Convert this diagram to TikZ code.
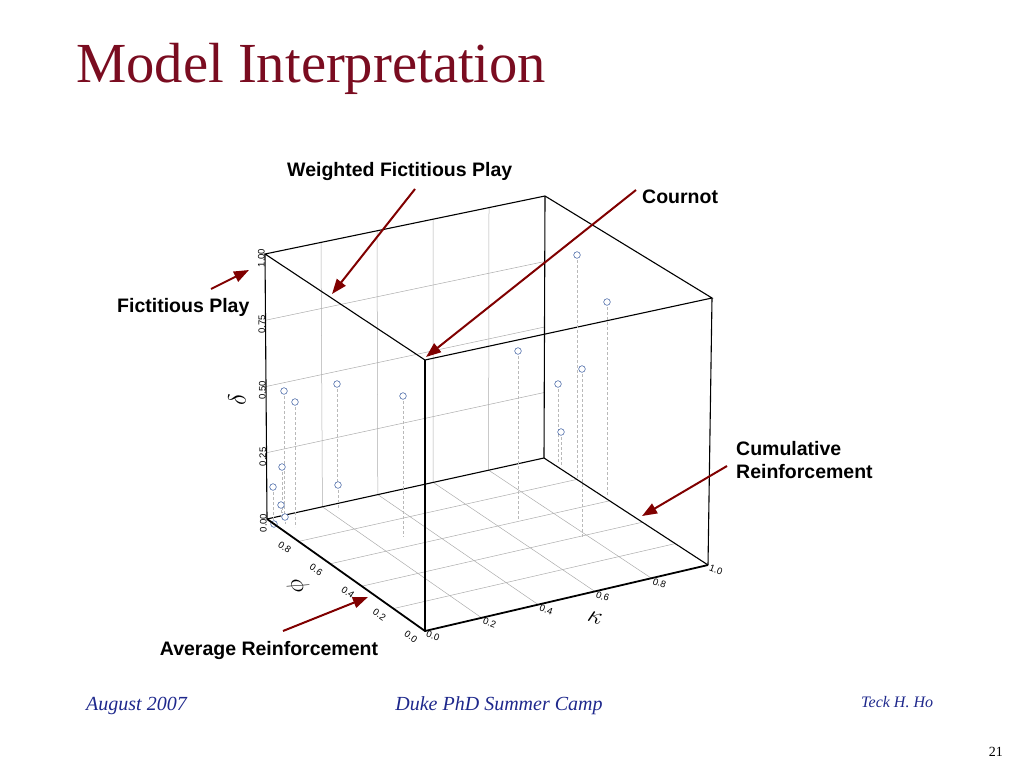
\documentclass[tikz,border=0pt]{standalone}
\usepackage{fontspec}
\setmainfont{Liberation Serif}
\newfontfamily\arial{Liberation Sans}
\usetikzlibrary{arrows.meta,calc}
\definecolor{titlered}{RGB}{122,12,32}
\definecolor{arrowred}{RGB}{128,0,0}
\definecolor{footblue}{RGB}{30,40,140}
\definecolor{dotblue}{RGB}{80,110,170}
\tikzset{
  edge/.style={draw=black, line width=1.1},
  front/.style={draw=black, line width=1.8},
  grid/.style={draw=gray!65, line width=0.5},
  drop/.style={draw=gray!55, dash pattern=on 3pt off 2pt, line width=0.5},
  datum/.style={draw=dotblue, line width=0.6, fill=white},
  tick/.style={font=\arial\fontsize{9.5}{10}\selectfont, inner sep=0},
  axis/.style={font=\fontsize{25}{25}\selectfont, inner sep=0},
  callout/.style={font=\arial\bfseries\fontsize{19.5}{23}\selectfont, inner sep=0, align=left},
  pointer/.style={draw=arrowred, line width=2, -{Triangle[length=15pt,width=11pt]}},
  foot/.style={font=\itshape\fontsize{20}{22}\selectfont, text=footblue, inner sep=0},
}

\begin{document}
\begin{tikzpicture}[x=1pt,y=-1pt]
  \useasboundingbox (0,0) rectangle (1024,768);

  \node[anchor=base west, text=titlered, font=\fontsize{56.6}{60}\selectfont, inner sep=0] (title) at (76,82) {Model Interpretation};

  % corners of the box: O origin, K kappa end, P phi end, Q far corner; T = top
  \coordinate (O) at (425,631);
  \coordinate (K) at (708,565);
  \coordinate (P) at (267,519);
  \coordinate (Q) at (544,458);
  \coordinate (OT) at (425,360);
  \coordinate (KT) at (712,298);
  \coordinate (PT) at (265,254);
  \coordinate (QT) at (545,196);

  % grid on back wall and floor
  \foreach \t in {0.2,0.4,0.6,0.8}{
    \draw[grid] ($(P)!\t!(Q)$) -- ($(PT)!\t!(QT)$);
    \draw[grid] ($(O)!\t!(K)$) -- ($(P)!\t!(Q)$);
    \draw[grid] ($(O)!\t!(P)$) -- ($(K)!\t!(Q)$);
  }
  \foreach \t in {0.25,0.5,0.75}
    \draw[grid] ($(P)!\t!(PT)$) -- ($(Q)!\t!(QT)$);

  \draw[edge] (PT) -- (QT) -- (KT) -- (OT) -- cycle;
  \draw[edge] (P) -- (PT);
  \draw[edge] (Q) -- (QT);
  \draw[edge] (K) -- (KT);
  \draw[edge] (P) -- (Q) -- (K);

  % data points with drop lines
  \foreach \x/\y/\f in {577/255/478, 607/302/497, 518/351/520, 558/384/463,
      582/369/537, 561/432/467, 284/391/517, 295/402/527, 337/384/485,
      338/485/510, 403/396/537, 282/467/513, 273/487/520, 281/505/517,
      285/517/524, 274/524/524}{
    \draw[drop] (\x,\y) -- (\x,\f);
    \draw[datum] (\x,\y) circle (3.3);
  }

  \draw[front] (P) -- (O) -- (K);
  \draw[front] (O) -- (OT);

  % tick labels
  \foreach \t/\v in {0/0.00,0.25/0.25,0.5/0.50,0.75/0.75,1/1.00}
    \node[tick, rotate=90, anchor=south, xshift=-4pt] at ($(P)!\t!(PT)$) {\v};
  \foreach \t/\v in {0/0.0,0.2/0.2,0.4/0.4,0.6/0.6,0.8/0.8,1/1.0}
    \node[tick, rotate=-20] at ($(O)!\t!(K)+(8,5)$) {\v};
  \foreach \t/\v in {0/0.0,0.2/0.2,0.4/0.4,0.6/0.6,0.8/0.8}
    \node[tick, rotate=-35] at ($(O)!\t!(P)+(-14,6)$) {\v};

  \node[axis, rotate=90] (delta) at (237,400) {$\delta$};
  \node[axis, rotate=-72] (phi) at (298,585) {$\phi$};
  \node[axis, rotate=-20] (kappa) at (595,618) {$\kappa$};

  % callouts
  \node[callout, anchor=base west] (wfp) at (287,176) {Weighted Fictitious Play};
  \node[callout, anchor=base west] (cournot) at (642,203) {Cournot};
  \node[callout, anchor=base west] (fp) at (117,312) {Fictitious Play};
  \node[callout, anchor=north west] (cumul) at (736,441) {Cumulative\\Reinforcement};
  \node[callout, anchor=base] (avg) at (269,655) {Average Reinforcement};

  \coordinate (wfpTail) at (415,189);
  \coordinate (wfpTip) at (332,294);
  \coordinate (cournotTail) at (636,190);
  \coordinate (cournotTip) at (426,357);
  \coordinate (fpTail) at (211,289);
  \coordinate (fpTip) at (249,270);
  \coordinate (cumulTail) at (727,466);
  \coordinate (cumulTip) at (642,516);
  \coordinate (avgTail) at (283,631);
  \coordinate (avgTip) at (368,597);
  \draw[pointer] (wfpTail) -- (wfpTip);
  \draw[pointer] (cournotTail) -- (cournotTip);
  \draw[pointer] (fpTail) -- (fpTip);
  \draw[pointer] (cumulTail) -- (cumulTip);
  \draw[pointer] (avgTail) -- (avgTip);

  % footer
  \node[foot, anchor=base west] (date) at (86,710) {August 2007};
  \node[foot, anchor=base] (camp) at (499,710) {Duke PhD Summer Camp};
  \node[foot, anchor=base west, font=\itshape\fontsize{16}{18}\selectfont] (author) at (861,707) {Teck H. Ho};
  \node[anchor=base east, inner sep=0, font=\fontsize{14}{16}\selectfont] (page) at (1003,756) {21};
\end{tikzpicture}
\end{document}
